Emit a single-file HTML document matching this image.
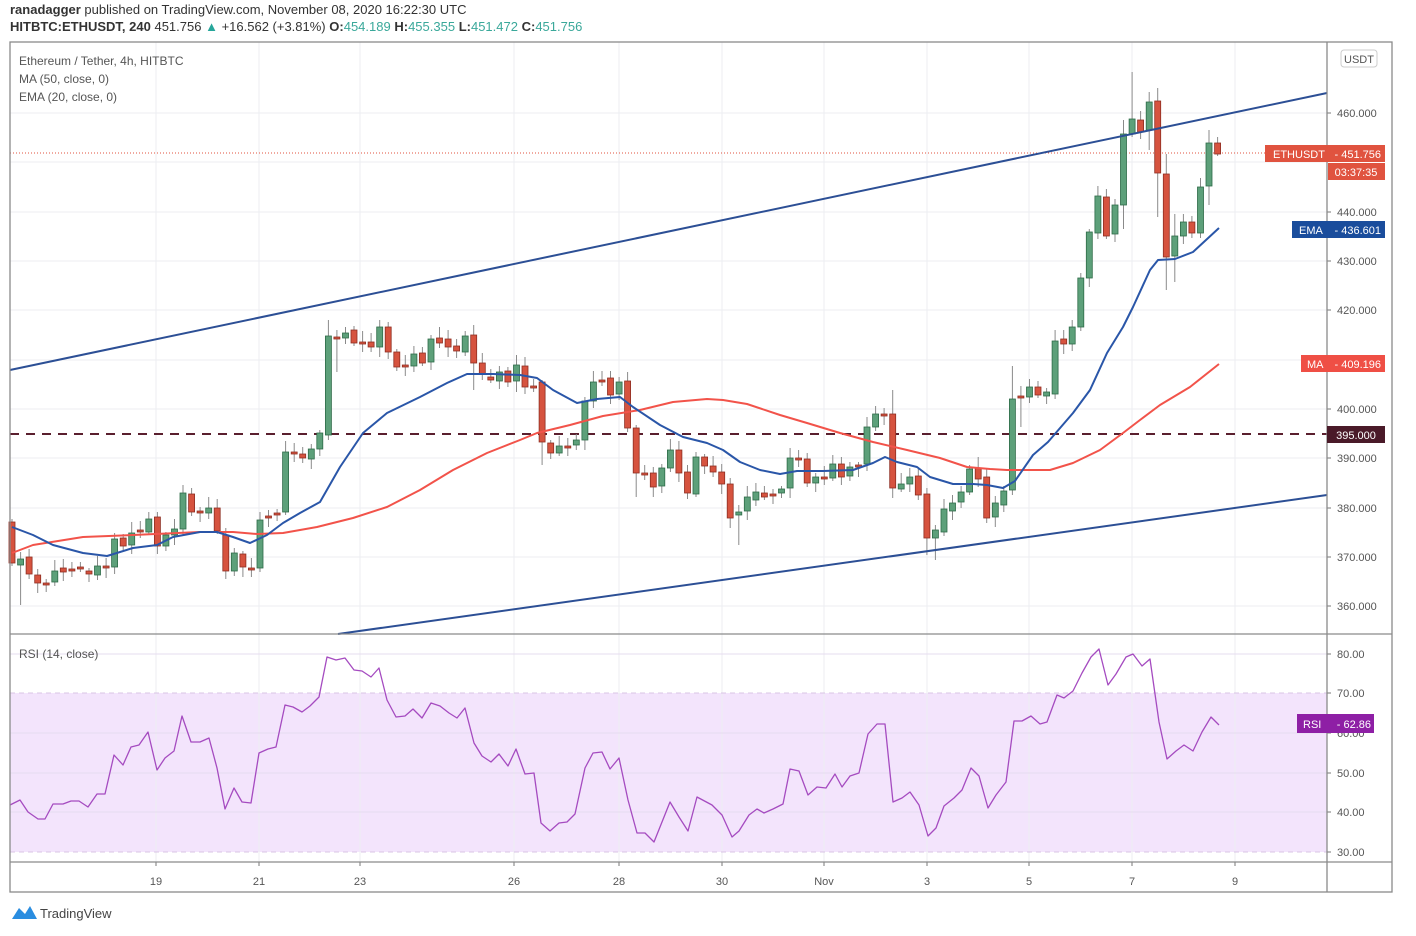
<!DOCTYPE html>
<html><head><meta charset="utf-8">
<style>
html,body{margin:0;padding:0;background:#fff;width:1416px;height:936px;overflow:hidden;font-family:"Liberation Sans",sans-serif;}
.h1{position:absolute;left:10px;top:2px;font-size:13px;color:#333;}
.h2{position:absolute;left:10px;top:19px;font-size:13px;color:#333;}
.t{color:#3aa89a}
svg{position:absolute;left:0;top:0}
</style></head><body>
<div class="h1"><b>ranadagger</b> published on TradingView.com, November 08, 2020 16:22:30 UTC</div>
<div class="h2"><b>HITBTC:ETHUSDT, 240</b> 451.756 <span style="color:#26a69a">▲</span> +16.562 (+3.81%) <b>O:</b><span class="t">454.189</span> <b>H:</b><span class="t">455.355</span> <b>L:</b><span class="t">451.472</span> <b>C:</b><span class="t">451.756</span></div>
<svg id="s" width="1416" height="936" xmlns="http://www.w3.org/2000/svg" font-family="Liberation Sans, sans-serif"></svg>
<script>
var s=document.getElementById('s'),h='';
function L(x1,y1,x2,y2,c,w,d){h+='<line x1="'+x1+'" y1="'+y1+'" x2="'+x2+'" y2="'+y2+'" stroke="'+c+'" stroke-width="'+(w||1)+'"'+(d?' stroke-dasharray="'+d+'"':'')+'/>';}
function T(x,y,t,c,sz,a,f){h+='<text x="'+x+'" y="'+y+'" fill="'+c+'" font-size="'+sz+'"'+(a?' text-anchor="'+a+'"':'')+(f?' font-weight="bold"':'')+'>'+t+'</text>';}
function R(x,y,w,hh,c){h+='<rect x="'+x+'" y="'+y+'" width="'+w+'" height="'+hh+'" fill="'+c+'"/>';}
function P(pts,c,w){h+='<polyline fill="none" stroke="'+c+'" stroke-width="'+w+'" stroke-linejoin="round" points="'+pts.map(function(p){return p.join(',')}).join(' ')+'"/>';}
// RSI band
R(10,693,1317,159,'#f3e4fc');
// grid
var gx=[156,259,360,514,619,722,824,927,1029,1132,1235];
gx.forEach(function(x){L(x,42,x,862,'#eceef2');});
[113,162,212,261,310,360,409,458,508,557,606].forEach(function(y){L(10,y,1327,y,'#eceef2');});
[654,733,773,812].forEach(function(y){L(10,y,1327,y,'#e6dcef');});
L(10,693,1327,693,'#d8c4e4',1,'5,4');L(10,852,1327,852,'#d8c4e4',1,'5,4');
// price labels
[[460,113],[440,212],[430,261],[420,310],[400,409],[390,458],[380,508],[370,557],[360,606]].forEach(function(a){L(1327,a[1],1331,a[1],'#777');T(1337,a[1]+4,a[0]+'.000','#555',11);});
[[80,654],[70,693],[60,733],[50,773],[40,812],[30,852]].forEach(function(a){L(1327,a[1],1331,a[1],'#777');T(1337,a[1]+4,a[0]+'.00','#555',11);});
// dates
[['19',156],['21',259],['23',360],['26',514],['28',619],['30',722],['Nov',824],['3',927],['5',1029],['7',1132],['9',1235]].forEach(function(a){L(a[1],862,a[1],866,'#777');T(a[1],885,a[0],'#555',11,'middle');});
// dashed 395
L(10,434,1327,434,'#5a1f2e',2,'9,7');
// price dotted
L(10,153,1327,153,'#e0533f',1,'1,2');
// candles
var C=[[522,563],[565,559],[557,574],[575,583],[583,584],[582,571],[568,572],[569,570],[567,568],[571,574],[575,566],[566,567],[567,539],[538,546],[545,533],[530,531],[532,519],[517,546],[546,535],[535,529],[529,493],[494,512],[511,512],[513,508],[508,531],[535,571],[571,553],[554,567],[568,569],[568,520],[516,517],[513,514],[512,452],[452,453],[454,458],[459,449],[449,433],[435,336],[337,338],
[338,333],[330,343],[342,343],[342,347],[347,327],[327,352],[352,367],[365,366],[366,354],[353,363],[362,339],[338,343],[339,347],[346,351],[352,336],[335,363],[363,374],[377,380],[381,372],[371,382],[381,365],[366,387],[386,387],[382,442],[443,453],[453,446],[446,447],[445,440],[440,401],[401,382],[380,381],[378,395],[394,382],[381,428],[428,473],[473,474],[473,487],[486,468],[468,450],[450,473],[472,493],[494,457],[457,466],[466,472],[472,484],[484,518],[515,512],[511,497],[500,492],[493,497],[494,495],[493,489],[488,458],[458,459],[459,483],[483,477],[477,478],[478,464],[464,477],[476,467],[465,466],[464,427],[427,414],[414,415],[414,488],[489,484],[484,477],[476,495],[494,538],[538,530],[532,509],[511,503],[502,492],[492,469],[468,479],[477,518],[517,503],[505,491],[490,399],[396,398],[397,387],[387,395],[396,392],[394,341],[339,344],[344,327],[327,278],[278,232],[233,196],[197,236],[234,205],[205,134],[134,119],[120,132],[130,102],[101,173],[174,257],[256,236],[236,222],[222,233],[233,187],[186,143],[143,154]];
var W={1:[552,605],37:[320,440],38:[330,372],54:[325,390],59:[355,392],62:[380,465],72:[372,432],73:[425,497],84:[478,528],85:[505,545],103:[390,498],107:[488,555],108:[525,560],117:[366,495],118:[386,427],130:[120,229],131:[72,137],133:[92,150],134:[88,217],135:[154,290],136:[214,282],139:[178,238],140:[130,205],141:[137,156]};
C.forEach(function(c,i){var x=12+8.55*i,o=c[0],cl=c[1],g=cl<o,t=Math.min(o,cl),b=Math.max(o,cl);if(b-t<2){b=t+2;}
var w=W[i]||[t-3-(i*7%9),b+3+(i*5%8)];
L(x.toFixed(1),w[0],x.toFixed(1),w[1],'#8a8a8a',1);
h+='<rect x="'+(x-3).toFixed(1)+'" y="'+t+'" width="6" height="'+(b-t)+'" fill="'+(g?'#5da07a':'#d6533f')+'" stroke="'+(g?'#2e6b48':'#8e2e22')+'" stroke-width="0.8"/>';});
// trend lines
L(10,370,1327,93,'#2c4f95',2);L(338,634,1327,495,'#2c4f95',2);
// MA
P([[12,553],[33,545],[83,537],[133,535],[200,532],[233,532],[257,534],[283,533],[317,527],[353,518],[387,507],[420,490],[453,470],[487,453],[520,440],[537,433],[570,425],[603,416],[640,410],[673,402],[707,399],[723,400],[747,404],[780,415],[807,423],[840,433],[873,442],[907,450],[940,458],[967,467],[990,469],[1007,470],[1050,470],[1073,463],[1100,450],[1123,433],[1140,420],[1160,405],[1190,387],[1219,364]],'#f2534a',2);
// EMA
P([[12,527],[33,535],[53,545],[83,553],[107,556],[133,548],[157,545],[173,537],[200,532],[217,532],[233,537],[250,543],[267,535],[283,523],[300,513],[320,502],[340,467],[363,433],[387,413],[420,397],[447,383],[467,374],[493,374],[520,375],[537,378],[553,390],[577,403],[597,399],[620,397],[633,407],[660,425],[683,437],[707,443],[723,450],[740,462],[760,470],[780,474],[797,471],[823,471],[853,470],[873,463],[885,457],[897,462],[917,467],[930,477],[953,484],[973,484],[987,485],[1003,488],[1015,481],[1033,455],[1048,442],[1073,413],[1090,390],[1107,353],[1123,327],[1133,307],[1150,270],[1158,260],[1175,259],[1193,252],[1219,228]],'#2a56a8',2);
// RSI
P([[10,805],[20,800],[28,812],[38,819],[45,819],[53,804],[63,804],[71,801],[79,801],[88,807],[97,794],[105,794],[114,755],[123,765],[131,747],[139,745],[148,732],[157,770],[165,758],[174,751],[182,716],[191,742],[200,742],[209,738],[217,768],[225,809],[234,788],[242,802],[251,803],[259,753],[268,749],[276,747],[285,705],[293,707],[302,712],[310,706],[319,697],[327,657],[336,660],[345,658],[354,670],[362,671],[371,677],[379,668],[387,700],[396,717],[405,716],[413,709],[422,718],[431,703],[440,706],[449,713],[457,718],[465,708],[474,743],[482,756],[491,762],[499,754],[508,766],[516,749],[525,774],[534,773],[541,823],[550,831],[559,823],[567,822],[575,814],[585,768],[593,753],[602,752],[610,769],[619,758],[628,800],[637,833],[645,833],[654,842],[670,802],[679,817],[688,831],[697,797],[712,805],[722,815],[732,837],[739,831],[749,815],[757,809],[764,813],[773,809],[783,804],[790,769],[799,771],[808,795],[817,787],[826,788],[835,774],[842,787],[850,776],[859,773],[868,734],[877,724],[885,724],[893,802],[902,798],[910,792],[919,805],[928,836],[936,828],[944,806],[954,798],[962,790],[971,768],[979,776],[988,808],[996,795],[1006,782],[1014,721],[1022,721],[1031,716],[1040,724],[1047,722],[1057,695],[1064,698],[1073,691],[1082,673],[1091,657],[1099,649],[1108,685],[1116,674],[1126,657],[1133,654],[1142,666],[1150,659],[1159,722],[1167,759],[1176,751],[1184,745],[1193,751],[1202,732],[1211,717],[1219,725]],'#a54bc0',1.3);
// frame
h+='<rect x="10" y="42" width="1382" height="850" fill="none" stroke="#8a8a8a" stroke-width="1.3"/>';
L(1327,42,1327,892,'#8a8a8a',1.3);L(10,634,1392,634,'#8a8a8a',1.3);L(10,862,1392,862,'#8a8a8a',1.3);
// legend
T(19,65,'Ethereum / Tether, 4h, HITBTC','#555',12);T(19,83,'MA (50, close, 0)','#555',12);T(19,101,'EMA (20, close, 0)','#555',12);T(19,658,'RSI (14, close)','#555',12);
// USDT box
h+='<rect x="1341" y="50" width="36" height="17" rx="3" fill="#fff" stroke="#ccc"/>';T(1359,63,'USDT','#555',11,'middle');
// labels
R(1265,145,120,17,'#e0533f');T(1273,158,'ETHUSDT','#fff',11);T(1381,158,'- 451.756','#fff',11,'end');
R(1328,163,57,17,'#e0533f');T(1356,176,'03:37:35','#fff',11,'middle');
R(1292,221,93,17,'#1a4d9c');T(1299,234,'EMA','#fff',11);T(1381,234,'- 436.601','#fff',11,'end');
R(1301,355,84,17,'#ef4f45');T(1307,368,'MA','#fff',11);T(1381,368,'- 409.196','#fff',11,'end');
R(1327,426,58,17,'#4a1a29');T(1356,439,'395.000','#fff',11,'middle');
R(1297,714,77,19,'#8e1fa5');T(1303,728,'RSI','#fff',11);T(1371,728,'- 62.86','#fff',11,'end');
// logo
h+='<path d="M12 919 L19 908 L25 914 L30 906 L37 919 Z" fill="#2a8de0"/>';T(40,918,'TradingView','#444',13);
s.innerHTML=h;
</script>
</body></html>
